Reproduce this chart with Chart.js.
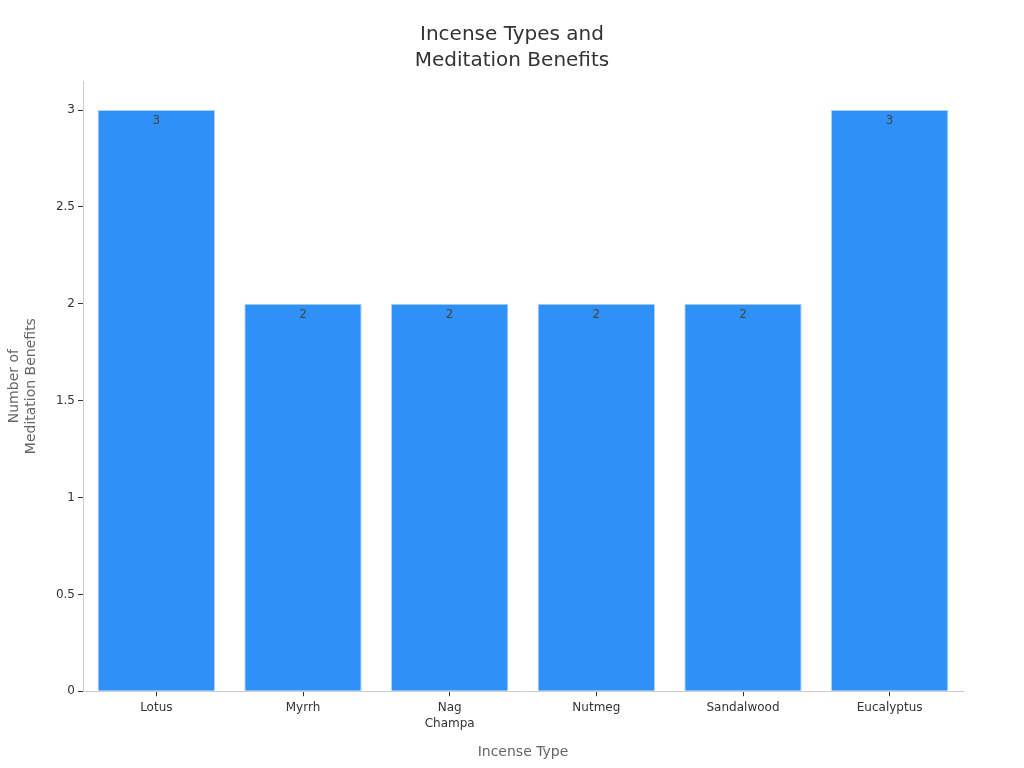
<!DOCTYPE html>
<html>
<head>
<meta charset="utf-8">
<script src="https://cdn.jsdelivr.net/npm/chart.js@4"></script>
<style>
  body { margin: 0; background: #fff; }
  #wrap { width: 1024px; height: 768px; }
</style>
</head>
<body>
<div id="wrap"><canvas id="chart" width="1024" height="768"></canvas></div>
<script>
const chartTitle = ['Incense Types and', 'Meditation Benefits'];
const incenseTypes = ['Lotus', 'Myrrh', ['Nag', 'Champa'], 'Nutmeg', 'Sandalwood', 'Eucalyptus'];
const benefitCounts = [3, 2, 2, 2, 2, 3];
const yTicks = [0, 0.5, 1, 1.5, 2, 2.5, 3];

 // draws the value just inside the top of each bar
const barLabels = {
    id: 'barLabels',
    afterDatasetsDraw(chart) {
        const ctx = chart.ctx;
        const meta = chart.getDatasetMeta(0);
        ctx.save();
        ctx.font = '12px "DejaVu Sans"';
        ctx.fillStyle = '#444';
        ctx.textAlign = 'center';
        ctx.textBaseline = 'middle';
        meta.data.forEach((bar, i) => {
            ctx.fillText(String(benefitCounts[i]), bar.x, bar.y + 11);
        });
        ctx.restore();
    }
};

 // title centred on the whole canvas, not on the padded box
const centredTitle = {
    id: 'centredTitle',
    afterDraw(chart) {
        const ctx = chart.ctx;
        ctx.save();
        ctx.font = '20px "DejaVu Sans"';
        ctx.fillStyle = '#333';
        ctx.textAlign = 'center';
        ctx.textBaseline = 'middle';
        chartTitle.forEach((line, i) => {
            ctx.fillText(line, chart.width / 2, 35 + i * 26);
        });
        ctx.restore();
    }
};

Chart.defaults.font.family = '"DejaVu Sans", sans-serif';

new Chart(document.getElementById('chart').getContext('2d'), {
    type: 'bar',
    data: {
        labels: incenseTypes,
        datasets: [{
            data: benefitCounts,
            backgroundColor: '#2f91f7',
            borderColor: '#a9d2fb',
            borderWidth: 1,
            barPercentage: 0.8,
            categoryPercentage: 1.0
        }]
    },
    options: {
        responsive: false,
        animation: false,
        layout: { padding: { left: 2, right: 61, top: 81, bottom: 3 } },
        plugins: {
            legend: { display: false },
            tooltip: { enabled: false },
            title: { display: false }
        },
        scales: {
            x: {
                grid: { drawOnChartArea: false, drawTicks: true, tickLength: 5, color: '#333', offset: false },
                border: { color: '#ccc' },
                ticks: { color: '#333', font: { size: 12, lineHeight: 1.33 }, padding: 4 },
                title: {
                    display: true,
                    text: 'Incense Type',
                    color: '#666',
                    font: { size: 14 },
                    padding: { top: 8, bottom: 4 }
                }
            },
            y: {
                min: 0,
                max: 3.15,
                afterBuildTicks(axis) {
                    axis.ticks = yTicks.map(v => ({ value: v }));
                },
                afterFit(axis) {
                    axis.width = 81;
                },
                grid: { drawOnChartArea: false, drawTicks: true, tickLength: 5, color: '#333' },
                border: { color: '#ccc' },
                ticks: {
                    color: '#333',
                    font: { size: 12 },
                    padding: 3,
                    callback: v => String(v)
                },
                title: {
                    display: true,
                    text: ['Number of', 'Meditation Benefits'],
                    color: '#666',
                    font: { size: 14 },
                    padding: { top: 4, bottom: 4 }
                }
            }
        }
    },
    plugins: [barLabels, centredTitle]
});
</script>
</body>
</html>
